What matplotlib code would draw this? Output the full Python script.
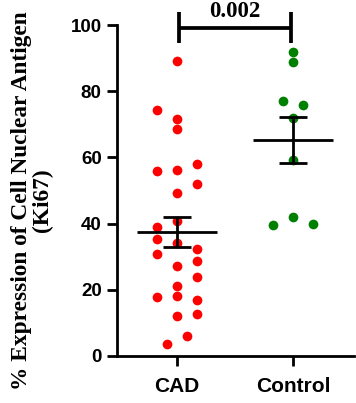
import numpy as np
import matplotlib
matplotlib.use('Agg')
import matplotlib.pyplot as plt

groups = ['CAD', 'Control']
colors = ['#FF0000', '#008000']

cad_values = [89.0, 74.2, 71.7, 68.5, 58.0, 55.8, 56.2, 52.1, 49.3, 40.7, 38.9, 35.2, 34.1,
              32.3, 30.9, 28.6, 27.1, 24.0, 21.2, 17.7, 18.0, 17.0, 12.1, 12.6, 6.1, 3.6]
cad_offsets = [0, -1, 0, 0, 1, -1, 0, 1, 0, 0, -1, -1, 0,
               1, -1, 1, 0, 1, 0, -1, 0, 1, 0, 1, 0.5, -0.5]

control_values = [91.9, 88.9, 77.1, 75.9, 72.0, 59.2, 42.0, 39.7, 40.0]
control_offsets = [0, 0, -0.5, 0.5, 0, 0, 0, -1, 1]

p_value = '0.002'

fig = plt.figure(figsize=(3.56, 4.03), dpi=100)
ax = fig.add_axes([117 / 356, 47 / 403, 237 / 356, 331 / 403])

jitter = 0.172
for i, (vals, offs) in enumerate([(cad_values, cad_offsets), (control_values, control_offsets)]):
    vals = np.array(vals)
    xs = i + np.array(offs) * jitter
    ax.plot(xs, vals, 'o', color=colors[i], markersize=7, markeredgewidth=0, zorder=2)
    mean = vals.mean()
    sem = vals.std(ddof=1) / np.sqrt(len(vals))
    ax.plot([i - 0.344, i + 0.344], [mean, mean], color='black', lw=2, zorder=3, solid_capstyle='butt')
    ax.errorbar(i, mean, yerr=sem, fmt='none', ecolor='black', elinewidth=2,
                capsize=10, capthick=2, zorder=3)

ax.set_xlim(-0.513, 1.525)
ax.set_ylim(0, 100)
ax.set_xticks([0, 1])
ax.set_xticklabels(groups)
ax.set_yticks([0, 20, 40, 60, 80, 100])

for s in ['top', 'right']:
    ax.spines[s].set_visible(False)
for s in ['left', 'bottom']:
    ax.spines[s].set_linewidth(2)

ax.tick_params(width=2, length=7)
for lab in ax.get_yticklabels():
    lab.set_fontfamily('Liberation Sans')
    lab.set_fontweight('bold')
    lab.set_fontsize(13.5)
for lab in ax.get_xticklabels():
    lab.set_fontfamily('Liberation Sans')
    lab.set_fontweight('bold')
    lab.set_fontsize(15)
ax.tick_params(axis='x', pad=8)
ax.tick_params(axis='y', pad=4)

ax.set_ylabel('% Expression of Cell Nuclear Antigen\n(Ki67)', fontfamily='Liberation Serif',
              fontweight='bold', fontsize=16.8, linespacing=1.0)
ax.yaxis.set_label_coords(-0.27, 0.47)

# significance bracket
ax.plot([0.02, 0.98], [99.2, 99.2], color='black', lw=2.7, clip_on=False, solid_capstyle='butt')
for xb in [0.02, 0.98]:
    ax.plot([xb, xb], [94.7, 103.8], color='black', lw=2.7, clip_on=False, solid_capstyle='butt')
ax.text(0.5, 104.0, p_value, ha='center', va='center', fontfamily='Liberation Serif',
        fontweight='bold', fontsize=16.5)

fig.savefig('out.png', dpi=100)
